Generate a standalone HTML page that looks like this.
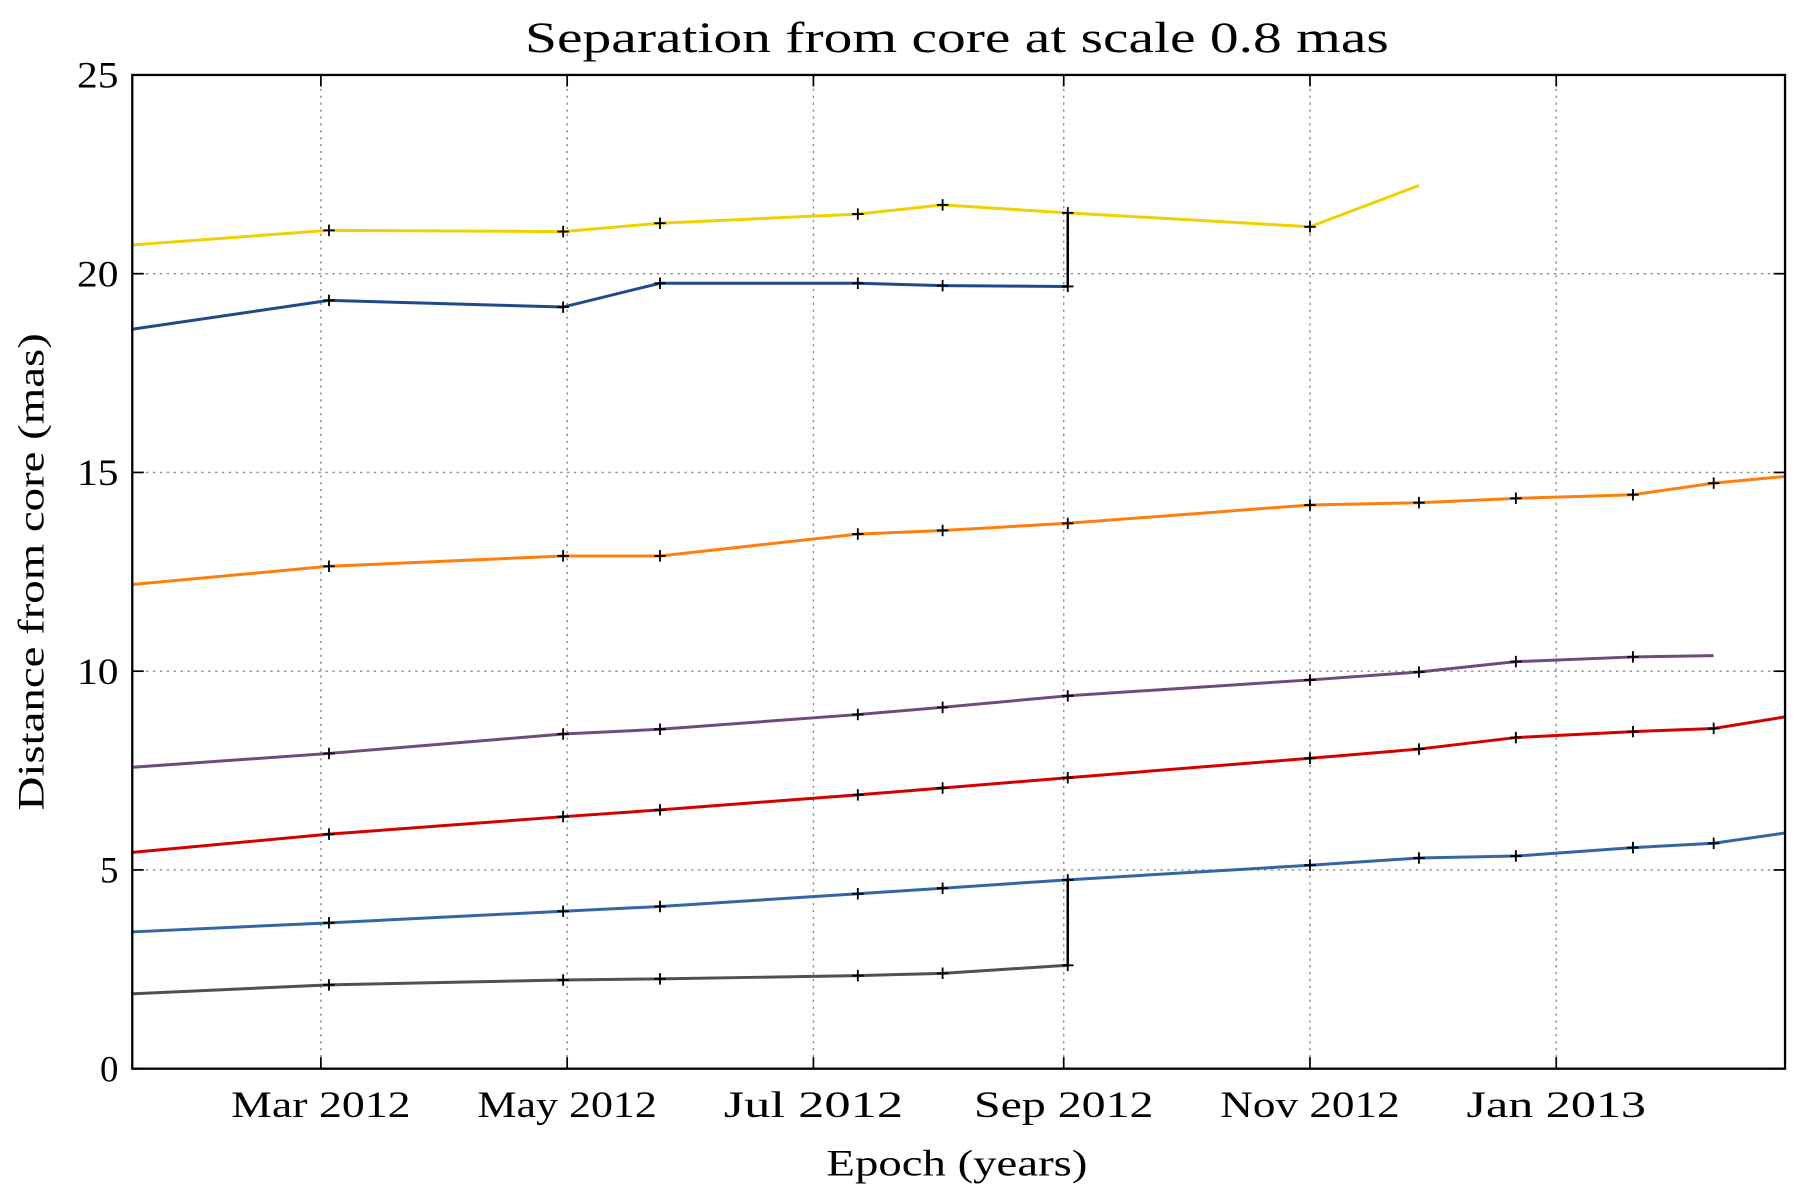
<!DOCTYPE html>
<html><head><meta charset="utf-8"><style>html,body{margin:0;padding:0;background:#fff}svg{display:block}</style></head>
<body>
<svg id="chart" width="1800" height="1200" viewBox="0 0 1565 1043" xmlns="http://www.w3.org/2000/svg" font-family="'Liberation Serif', serif">
<rect width="1565" height="1043" fill="#fff"/>
<g id="grid"></g>
<g id="series"></g>
<g id="axes"></g>
<text x="832" y="45" font-size="38" text-anchor="middle" textLength="751" lengthAdjust="spacingAndGlyphs">Separation from core at scale 0.8 mas</text>
<text x="832" y="1022" font-size="32" text-anchor="middle" textLength="227" lengthAdjust="spacingAndGlyphs">Epoch (years)</text>
<text transform="translate(38,497) rotate(-90)" font-size="32" text-anchor="middle" textLength="415" lengthAdjust="spacingAndGlyphs">Distance from core (mas)</text>
</svg>
<script>
const epochs = ["2012-01-14","2012-03-03","2012-04-30","2012-05-24","2012-07-12","2012-08-02","2012-09-02","2012-11-01","2012-11-28","2012-12-22","2013-01-20","2013-02-09","2013-02-27"];
const yellowVals = [20.72,21.09,21.06,21.27,21.50,21.73,21.53,21.18,22.22];
const darkBlueVals = [18.60,19.33,19.16,19.76,19.76,19.70,19.68];
const orangeVals = [12.18,12.64,12.90,12.90,13.45,13.54,13.72,14.18,14.24,14.35,14.44,14.73,14.90];
const purpleVals = [7.58,7.93,8.42,8.54,8.91,9.09,9.38,9.78,9.98,10.24,10.36,10.39];
const redVals = [5.44,5.90,6.34,6.51,6.89,7.06,7.32,7.81,8.04,8.33,8.48,8.56,8.85];
const blueVals = [3.44,3.67,3.96,4.08,4.40,4.54,4.75,5.12,5.30,5.35,5.56,5.67,5.93];
const grayVals = [1.88,2.11,2.23,2.26,2.34,2.40,2.60];
const yTicks = [0,5,10,15,20,25];
const xTickDates = ["2012-03-01","2012-05-01","2012-07-01","2012-09-01","2012-11-01","2013-01-01"];
const xTickLabels = ["Mar 2012","May 2012","Jul 2012","Sep 2012","Nov 2012","Jan 2013"];

const L=115,R=1552,T=65,B=929;
const ref=Date.parse("2012-03-01");
function xs(d){return Math.min(R,279+((Date.parse(d)-ref)/86400000)*3.51);}
function ys(v){return B-(v/25)*(B-T);}
const NS="http://www.w3.org/2000/svg";
function mk(tag,attrs,parent){const e=document.createElementNS(NS,tag);for(const k in attrs)e.setAttribute(k,attrs[k]);parent.appendChild(e);return e;}
const grid=document.getElementById('grid'),axes=document.getElementById('axes'),sg=document.getElementById('series');

yTicks.forEach((t,i)=>{
  const y=ys(t);
  if(t>0&&t<25){const g=mk('line',{x1:L,x2:R,y1:y,y2:y,stroke:'#888','stroke-width':1.2,'stroke-dasharray':'2,4'},grid);
  
  }
  const a=mk('line',{x1:L,x2:L+10,y1:y,y2:y,stroke:'#000','stroke-width':1.5},axes);
  
  
  const b=mk('line',{x1:R-10,x2:R,y1:y,y2:y,stroke:'#000','stroke-width':1.5},axes);
  
  
  const tx=mk('text',{x:L-12,y:y+11,'font-size':32,'text-anchor':'end'},axes);
  if(String(t).length>1){tx.setAttribute('textLength',36);tx.setAttribute('lengthAdjust','spacingAndGlyphs');}
  tx.textContent=t;
  
  
});
xTickDates.forEach((d,i)=>{
  const x=xs(d);
  const g=mk('line',{x1:x,x2:x,y1:T,y2:B,stroke:'#888','stroke-width':1.2,'stroke-dasharray':'2,4'},grid);
  
  
  const a=mk('line',{x1:x,x2:x,y1:B-10,y2:B,stroke:'#000','stroke-width':1.5},axes);
  
  
  const b=mk('line',{x1:x,x2:x,y1:T,y2:T+10,stroke:'#000','stroke-width':1.5},axes);
  
  
  const tx=mk('text',{x:x,y:B+42,'font-size':32,'text-anchor':'middle',textLength:xTickLabels[i].length*19.5,lengthAdjust:'spacingAndGlyphs'},axes);
  tx.textContent=xTickLabels[i];
  
  
});
const fr=mk('rect',{x:L,y:T,width:R-L,height:B-T,fill:'none',stroke:'#000','stroke-width':2},axes);



const seriesList=[
 {name:'yellow',vals:yellowVals,color:'#f0d000',markLast:false},
 {name:'dark-blue',vals:darkBlueVals,color:'#1f4a8a',markLast:true},
 {name:'orange',vals:orangeVals,color:'#ff7f0e',markLast:false},
 {name:'purple',vals:purpleVals,color:'#6e4a7e',markLast:false},
 {name:'red',vals:redVals,color:'#d40000',markLast:false},
 {name:'blue',vals:blueVals,color:'#3465a4',markLast:false},
 {name:'gray',vals:grayVals,color:'#505050',markLast:true}
];
seriesList.forEach(s=>{
  const pts=s.vals.map((v,i)=>xs(epochs[i]).toFixed(1)+','+ys(v).toFixed(1)).join(' ');
  const pl=mk('polyline',{points:pts,fill:'none',stroke:s.color,'stroke-width':2.6},sg);
  
  
});
[[yellowVals[6],darkBlueVals[6]],[blueVals[6],grayVals[6]]].forEach(p=>{
  const x=xs(epochs[6]);
  const c=mk('line',{x1:x,x2:x,y1:ys(p[0]),y2:ys(p[1]),stroke:'#000','stroke-width':2.2},sg);
  
  
});
seriesList.forEach(s=>{
  s.vals.forEach((v,i)=>{
    if(i===0)return;
    if(i===s.vals.length-1&&!s.markLast)return;
    const x=xs(epochs[i]),y=ys(v);
    if(x>=R-2)return;
    const m=mk('path',{d:`M${x-5},${y}H${x+5}M${x},${y-5}V${y+5}`,stroke:'#000','stroke-width':1.6},sg);
    
    
  });
});
</script>
</body></html>
